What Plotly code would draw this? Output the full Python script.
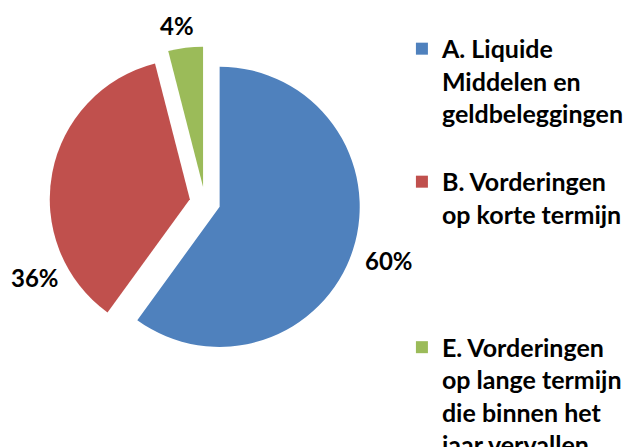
import plotly.graph_objects as go

labels = [
    "A. Liquide<br>Middelen en<br>geldbeleggingen<br> ",
    "B. Vorderingen<br>op korte termijn<br> <br> <br> ",
    "E. Vorderingen<br>op lange termijn<br>die binnen het<br>jaar vervallen",
]
values = [60, 36, 4]
pct_labels = ["60%", "36%", "4%"]
colors = ["#4F81BD", "#C0504D", "#9BBB59"]
pulls = [0.11, 0.11, 0.11]

# data-label anchor positions (paper coords), like Excel's best-fit placement
label_pos = [(0.619, 0.418), (0.0557, 0.380), (0.282, 0.944)]

font_family = "Lato, 'Open Sans', sans-serif"

fig = go.Figure(
    go.Pie(
        labels=labels,
        values=values,
        sort=False,
        direction="clockwise",
        rotation=0,
        pull=pulls,
        marker=dict(colors=colors, line=dict(width=0)),
        textinfo="none",
        domain=dict(x=[0.0788, 0.574], y=[0.2, 0.896]),
        showlegend=True,
        hoverinfo="label+percent",
    )
)

for txt, (px, py) in zip(pct_labels, label_pos):
    fig.add_annotation(
        x=px, y=py, xref="paper", yref="paper",
        text="<b>" + txt + "</b>", showarrow=False,
        xanchor="center", yanchor="middle",
        font=dict(family=font_family, size=24, color="#000000"),
    )

fig.update_layout(
    width=628,
    height=447,
    margin=dict(l=0, r=0, t=0, b=0, autoexpand=False),
    paper_bgcolor="white",
    plot_bgcolor="white",
    font=dict(family=font_family, size=25, color="#000000", weight="bold"),
    legend=dict(
        x=0.640,
        xanchor="left",
        y=0.942,
        yanchor="top",
        valign="top",
        font=dict(family=font_family, size=25, color="#000000", weight="bold"),
        bgcolor="rgba(0,0,0,0)",
        traceorder="normal",
    ),
)

fig.write_html(
    "out.html",
    config={"displayModeBar": False},
    post_script="document.body.style.margin='0px';document.body.style.overflow='hidden';",
)
